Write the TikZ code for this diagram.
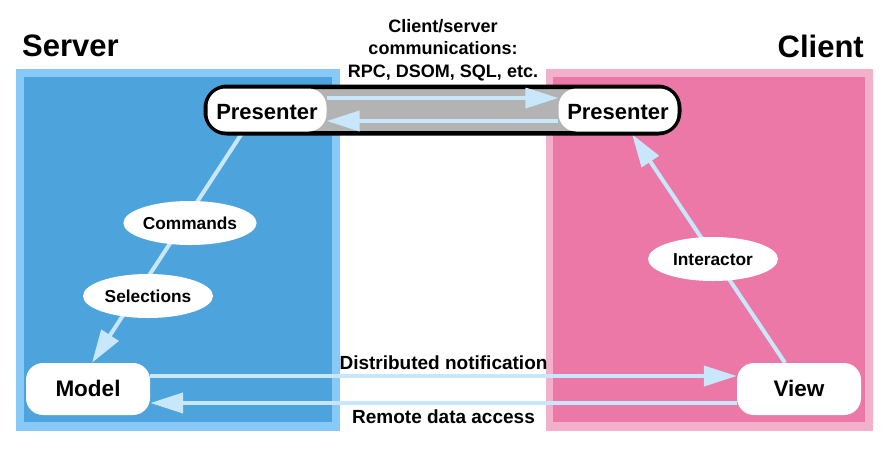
\documentclass[tikz,border=0pt]{standalone}
\usepackage{fontspec}
\setmainfont{Liberation Sans}
\usetikzlibrary{arrows.meta,shapes.geometric}
\definecolor{srvout}{HTML}{87C9F7}
\definecolor{srvin}{HTML}{4DA4DD}
\definecolor{cliout}{HTML}{F2B0CA}
\definecolor{cliin}{HTML}{EC78A7}
\definecolor{arr}{HTML}{C9E7FA}
\definecolor{band}{HTML}{B3B3B3}
\pgfdeclarelayer{back}
\pgfdeclarelayer{mid}
\pgfsetlayers{back,mid,main}
\begin{document}
\begin{tikzpicture}[x=1pt,y=-1pt,
  conn/.style={draw=arr, line width=4pt, -{Triangle[length=33pt,width=20pt]}},
  box/.style={fill=white, rounded corners=17pt, minimum width=124pt, minimum height=52pt,
    inner sep=0pt, text height=14pt, text depth=0pt, font=\bfseries\fontsize{22.5}{27}\selectfont},
  pres/.style={fill=white, rounded corners=18pt, minimum width=119pt, minimum height=43pt,
    inner sep=0pt, text height=19pt, text depth=0pt, font=\bfseries\fontsize{22}{26}\selectfont},
  lab/.style={ellipse, fill=white, minimum width=130pt, minimum height=44pt, inner sep=0pt,
    text height=12.6pt, text depth=0pt, font=\bfseries\fontsize{17.3}{20}\selectfont},
  txt/.style={font=\bfseries\fontsize{19}{22.5}\selectfont, inner sep=0pt},
  toptxt/.style={font=\bfseries\fontsize{18}{22.5}\selectfont, inner sep=0pt, align=center},
  title/.style={font=\bfseries\fontsize{31}{36}\selectfont, inner sep=0pt}]
\useasboundingbox (0,0) rectangle (886,448);
% regions
\begin{pgfonlayer}{back}
\fill[srvout] (16,69) rectangle (340,431);
\fill[srvin] (24,77) rectangle (332,422);
\fill[cliout] (546,69) rectangle (873,431);
\fill[cliin] (553,77) rectangle (865,422);
\end{pgfonlayer}
% titles
\node[title, anchor=base west] (server) at (22,56) {Server};
\node[title, anchor=base east] (client) at (864,57) {Client};
\node[toptxt, anchor=north] (comm) at (443,19) {Client/server\\communications:\\RPC, DSOM, SQL, etc.};
% channel between presenters
\node[draw=black, line width=3pt, rounded corners=22pt, fill=band, minimum width=472pt,
  minimum height=45pt, inner sep=0pt] (chan) at (442.5,110) {};
\node[pres] (pl) at (267,110) {Presenter};
\node[pres] (pr) at (618,110) {Presenter};
\draw[conn] ([yshift=12pt]pl.east) -- ([yshift=12pt]pr.west);
\draw[conn] ([yshift=-11pt]pr.west) -- ([yshift=-11pt]pl.east);
\draw[line width=3pt, rounded corners=22pt] (chan.north west) rectangle (chan.south east);
% model and view
\node[box] (model) at (88,389) {Model};
\node[box] (view) at (799,389) {View};
% labels on diagonals
\node[lab] (cmd) at (190,223) {Commands};
\node[lab] (sel) at (148,296) {Selections};
\node[lab] (int) at (713,259) {Interactor};
\begin{pgfonlayer}{mid}
\draw[conn] ([xshift=-24pt]pl.south) -- ([xshift=4pt]model.north);
\draw[conn] ([xshift=-14pt]view.north) -- ([xshift=14pt,yshift=-2.5pt]pr.south);
\end{pgfonlayer}
% bottom arrows
\draw[conn] ([yshift=13pt]model.east) -- ([yshift=13pt]view.west)
  node[txt, midway, anchor=base, yshift=7pt] (dn) {Distributed notification};
\draw[conn] ([yshift=-14pt]view.west) -- ([yshift=-14pt]model.east)
  node[txt, midway, anchor=base, yshift=-20pt] (rda) {Remote data access};
\end{tikzpicture}
\end{document}
